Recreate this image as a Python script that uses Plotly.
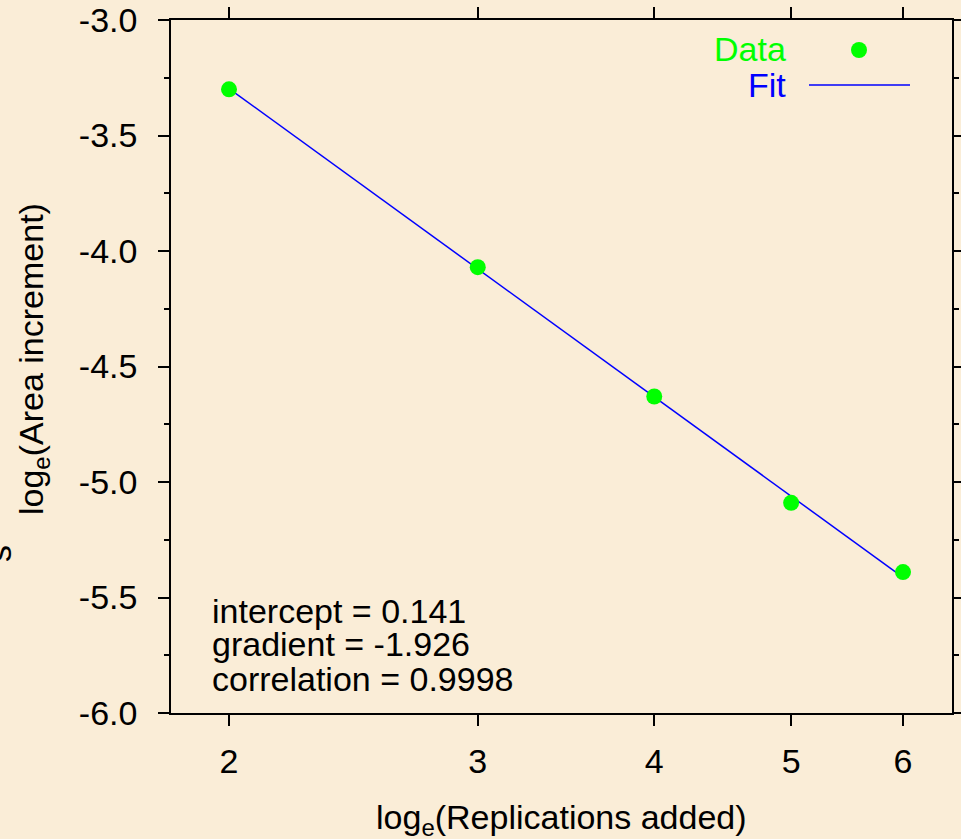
import numpy as np
import plotly.graph_objects as go

# Replications added (plotted on a logarithmic axis) and log_e(Area increment)
replications = [2, 3, 4, 5, 6]
log_area_increment = [-3.30, -4.07, -4.63, -5.09, -5.39]

# Regression summary
intercept_label = 0.141
gradient = -1.926
correlation = 0.9998

x_ticks = [2, 3, 4, 5, 6]
x_tick_text = ["2", "3", "4", "5", "6"]
y_ticks = [-6.0, -5.5, -5.0, -4.5, -4.0, -3.5, -3.0]
y_tick_text = ["-6.0", "-5.5", "-5.0", "-4.5", "-4.0", "-3.5", "-3.0"]
y_minor_ticks = [-5.75, -5.25, -4.75, -4.25, -3.75, -3.25]

W, H = 961, 839
L, R, T, B = 171, 9, 20, 126
FONT = "Liberation Sans, Arial, Helvetica, sans-serif"
FS = 34
GREEN = "#00FF00"
BLUE = "#0000FF"
BG = "#FAEDD7"
SUB_E = "<sub><span style='font-size:24px'>e</span></sub>"


def px(xp):
    return (xp - L) / (W - L - R)


def py(yp):
    return 1 - (yp - T) / (H - T - B)


# Fit line through the centroid of the data with the stated gradient (in ln x)
lx = np.log(np.array(replications, dtype=float))
ly = np.array(log_area_increment)
offset = ly.mean() - gradient * lx.mean()
fit_x = np.array([replications[0], replications[-1]], dtype=float)
fit_y = offset + gradient * np.log(fit_x)

fig = go.Figure()
fig.add_trace(go.Scatter(
    x=fit_x, y=fit_y, mode="lines",
    line=dict(color=BLUE, width=1.5), showlegend=False, hoverinfo="skip",
))
fig.add_trace(go.Scatter(
    x=replications, y=log_area_increment, mode="markers",
    marker=dict(color=GREEN, size=16, line=dict(width=0)),
    showlegend=False,
))

xr = [np.log10(2) - 58 / 1412.6, np.log10(6) + 49 / 1412.6]

fig.update_xaxes(
    type="log", range=xr, tickmode="array", tickvals=x_ticks, ticktext=x_tick_text,
    showgrid=False, zeroline=False,
    showline=True, linecolor="black", linewidth=1.5, mirror="ticks",
    ticks="outside", ticklen=11, tickwidth=1.5, tickcolor="black",
    tickfont=dict(family=FONT, size=FS, color="black"),
    ticklabelstandoff=6,
)
fig.update_yaxes(
    range=[-6, -3], tickmode="array", tickvals=y_ticks, ticktext=y_tick_text,
    showgrid=False, zeroline=False,
    showline=True, linecolor="black", linewidth=1.5, mirror="ticks",
    ticks="outside", ticklen=11, tickwidth=1.5, tickcolor="black",
    minor=dict(tickmode="array", tickvals=y_minor_ticks, ticks="outside", ticklen=5,
               tickwidth=1.5, tickcolor="black", showgrid=False),
    tickfont=dict(family=FONT, size=FS, color="black"),
    ticklabelstandoff=14,
)

ann = []
# axis titles
ann.append(dict(text=f"log{SUB_E}(Replications added)", xref="paper", yref="paper",
                x=px(561), y=py(820), xanchor="center", yanchor="middle",
                showarrow=False, font=dict(family=FONT, size=FS, color="black")))
ann.append(dict(text=f"log{SUB_E}(Area increment)", xref="paper", yref="paper",
                x=px(33), y=py(359), xanchor="center", yanchor="middle", textangle=-90,
                showarrow=False, font=dict(family=FONT, size=FS, color="black")))
ann.append(dict(text="s", xref="paper", yref="paper",
                x=px(-1), y=py(554), xanchor="center", yanchor="middle", textangle=-90,
                showarrow=False, font=dict(family=FONT, size=FS, color="black")))

# regression statistics
stats = [
    (f"intercept = {intercept_label:.3f}", 611),
    (f"gradient = {gradient:.3f}", 644),
    (f"correlation = {correlation:.4f}", 679),
]
for txt, yp in stats:
    ann.append(dict(text=txt, xref="paper", yref="paper", x=px(210), y=py(yp),
                    xanchor="left", yanchor="middle", showarrow=False,
                    font=dict(family=FONT, size=FS, color="black")))

# legend
ann.append(dict(text="Data", xref="paper", yref="paper", x=px(788), y=py(49),
                xanchor="right", yanchor="middle", showarrow=False,
                font=dict(family=FONT, size=FS, color=GREEN)))
ann.append(dict(text="Fit", xref="paper", yref="paper", x=px(788), y=py(85),
                xanchor="right", yanchor="middle", showarrow=False,
                font=dict(family=FONT, size=FS, color=BLUE)))

shapes = [
    dict(type="circle", xref="paper", yref="paper", xsizemode="pixel", ysizemode="pixel",
         xanchor=px(859), yanchor=py(50), x0=-8, x1=8, y0=-8, y1=8,
         fillcolor=GREEN, line=dict(width=0)),
    dict(type="line", xref="paper", yref="paper", x0=px(809), x1=px(910),
         y0=py(85), y1=py(85), line=dict(color=BLUE, width=1.5)),
]

fig.update_layout(
    width=W, height=H,
    margin=dict(l=L, r=R, t=T, b=B, autoexpand=False),
    paper_bgcolor=BG, plot_bgcolor=BG,
    annotations=ann, shapes=shapes,
    font=dict(family=FONT, size=FS, color="black"),
)

fig.write_html("out.html")
